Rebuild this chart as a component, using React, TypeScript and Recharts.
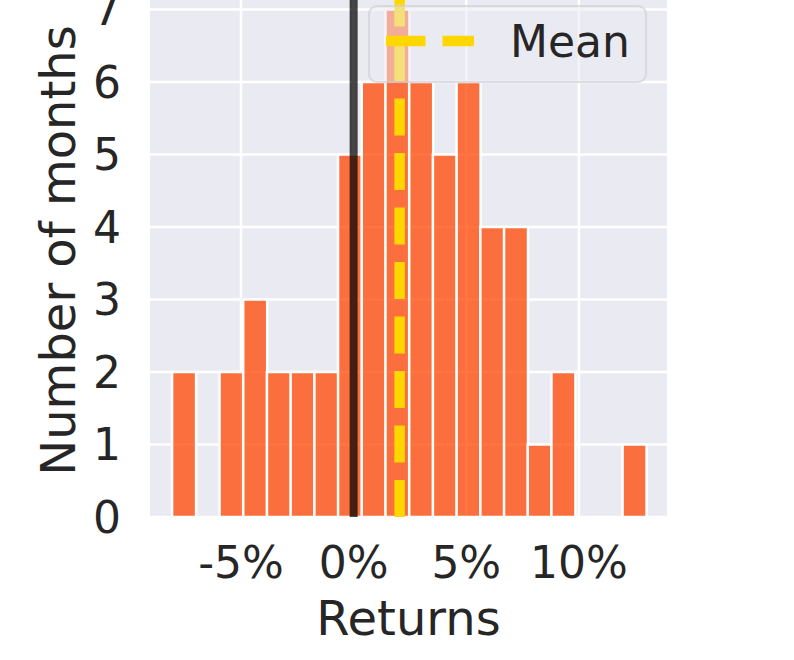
import {
  Bar,
  BarChart,
  CartesianGrid,
  Legend,
  ReferenceLine,
  XAxis,
  YAxis,
} from "recharts";

// left edge of each histogram bin, in % return
const binLeftEdges = [
  -8.06, -7.01, -5.96, -4.9, -3.85, -2.8, -1.74, -0.69, 0.36, 1.41, 2.46,
  3.52, 4.57, 5.62, 6.67, 7.73, 8.78, 9.83, 10.88, 11.94,
];
const monthCounts = [2, 0, 2, 3, 2, 2, 2, 5, 6, 7, 6, 5, 6, 4, 4, 1, 2, 0, 0, 1];
const xTicks = [-5, 0, 5, 10];
const yTicks = [0, 1, 2, 3, 4, 5, 6, 7];
const breakEven = 0;
const meanReturn = 2.04;

const binWidth = binLeftEdges[1] - binLeftEdges[0];
const binRightEdge = binLeftEdges[binLeftEdges.length - 1] + binWidth;

const data = binLeftEdges.map((lo, i) => ({
  bin: lo.toFixed(2),
  mid: lo + binWidth / 2,
  count: monthCounts[i],
}));

// layout
const CHART_W = 794;
const CHART_H = 700;
const SHIFT = 16; // plot top sits above the visible page
const PLOT_LEFT = 150;
const PLOT_RIGHT = 667;
const PLOT_BOTTOM = 533;
const PLOT_W = PLOT_RIGHT - PLOT_LEFT;
const X_MIN = -9.04;
const X_MAX = 13.91;
const Y_MAX = 7.35;

const pxPerUnit = PLOT_W / (X_MAX - X_MIN);
const padLeft = (binLeftEdges[0] - X_MIN) * pxPerUnit;
const padRight = (X_MAX - binRightEdge) * pxPerUnit;

const TEXT = "#262626";
const FONT = "'DejaVu Sans', sans-serif";

const MeanLegend = () => (
  <div
    style={{
      width: 279,
      height: 78,
      boxSizing: "border-box",
      background: "rgba(234,234,242,0.5)",
      border: "2px solid rgba(200,200,210,0.55)",
      borderRadius: 9,
      position: "relative",
      fontFamily: FONT,
    }}
  >
    <svg width={279} height={78} style={{ position: "absolute", left: -2, top: -2 }}>
      <line
        x1={18}
        x2={106}
        y1={36}
        y2={36}
        stroke="#FFD700"
        strokeWidth={10.5}
        strokeDasharray="39.5 17"
      />
      <text x={142} y={52} fontSize={44} fill={TEXT} fontFamily={FONT}>
        Mean
      </text>
    </svg>
  </div>
);

export default function App() {
  return (
    <div
      style={{
        position: "fixed",
        left: 0,
        top: 0,
        width: CHART_W,
        height: 660,
        overflow: "hidden",
        background: "#fff",
      }}
    >
      <div style={{ position: "absolute", left: 0, top: -SHIFT }}>
        <BarChart
          width={CHART_W}
          height={CHART_H}
          data={data}
          margin={{ top: 0, right: CHART_W - PLOT_RIGHT, bottom: 0, left: 0 }}
          barCategoryGap={0}
          barGap={0}
          style={{ fontFamily: FONT }}
        >
          <CartesianGrid
            xAxisId="num"
            fill="#EAEAF2"
            stroke="#fff"
            strokeWidth={2.5}
            verticalValues={xTicks}
            horizontalValues={yTicks}
          />
          <XAxis
            xAxisId="bins"
            dataKey="bin"
            type="category"
            hide
            height={0}
            padding={{ left: padLeft, right: padRight }}
          />
          <XAxis
            xAxisId="num"
            dataKey="mid"
            type="number"
            domain={[X_MIN, X_MAX]}
            allowDataOverflow
            ticks={xTicks}
            tickFormatter={(v: number) => `${v}%`}
            axisLine={false}
            tickLine={false}
            tickSize={0}
            tickMargin={30}
            height={CHART_H - PLOT_BOTTOM}
            tick={{ fontSize: 44, fill: TEXT }}
            label={{
              value: "Returns",
              position: "insideBottom",
              offset: 49,
              style: { fontSize: 48, fill: TEXT },
            }}
          />
          <YAxis
            type="number"
            domain={[0, Y_MAX]}
            allowDataOverflow
            ticks={yTicks}
            axisLine={false}
            tickLine={false}
            tickSize={0}
            tickMargin={29}
            width={PLOT_LEFT}
            tick={{ fontSize: 44, fill: TEXT }}
            label={{
              value: "Number of months",
              angle: -90,
              position: "insideLeft",
              offset: 58,
              style: { fontSize: 48, fill: TEXT, textAnchor: "middle" },
            }}
          />
          <Bar
            xAxisId="bins"
            dataKey="count"
            fill="#FF4500"
            fillOpacity={0.75}
            stroke="#fff"
            strokeWidth={2.5}
            isAnimationActive={false}
          />
          <ReferenceLine
            xAxisId="num"
            x={breakEven}
            stroke="#000"
            strokeOpacity={0.73}
            strokeWidth={8}
          />
          <ReferenceLine
            xAxisId="num"
            x={meanReturn}
            stroke="#FFD700"
            strokeWidth={10.5}
            strokeDasharray="37 17.5"
          />
          <Legend
            layout="vertical"
            align="center"
            verticalAlign="middle"
            content={MeanLegend}
            wrapperStyle={{ left: 368, top: 5 + SHIFT, width: 279, height: 78 }}
          />
        </BarChart>
      </div>
    </div>
  );
}
